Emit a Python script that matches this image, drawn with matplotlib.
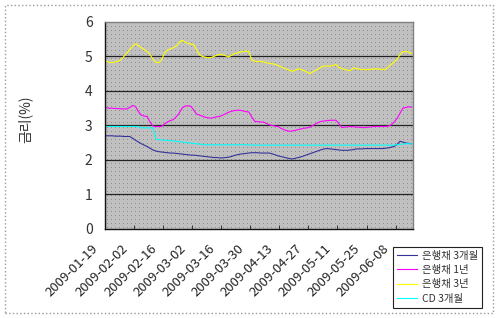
import matplotlib
matplotlib.use('Agg')
import matplotlib.pyplot as plt
from matplotlib.patches import Rectangle
from matplotlib.transforms import ScaledTranslation
import numpy as np
import pandas as pd

plt.rcParams['font.family'] = ['Noto Sans CJK KR', 'DejaVu Sans']

# 영업일 기준 날짜 (2009-01-19 ~ 2009-06-15)
dates = pd.bdate_range('2009-01-19', periods=106).strftime('%Y-%m-%d').tolist()
tick_labels = dates[::10]

bank_3m = [2.7, 2.7, 2.7, 2.69, 2.69, 2.69, 2.68, 2.68, 2.68,
           2.63, 2.57, 2.52, 2.47, 2.43, 2.39,
           2.34, 2.29, 2.26, 2.24,
           2.23, 2.22, 2.21, 2.2,
           2.2, 2.19, 2.18, 2.17, 2.16, 2.15,
           2.14, 2.14, 2.13, 2.12, 2.11, 2.1, 2.09,
           2.08, 2.07, 2.07, 2.06, 2.06,
           2.07, 2.08, 2.1, 2.13, 2.15,
           2.17, 2.18, 2.19, 2.2, 2.21,
           2.21, 2.21, 2.2, 2.2, 2.2, 2.2,
           2.18, 2.15, 2.12, 2.1, 2.08,
           2.06, 2.04, 2.03, 2.05, 2.07,
           2.09, 2.12, 2.15, 2.18, 2.21,
           2.24, 2.27, 2.3, 2.32, 2.33,
           2.32, 2.31, 2.3, 2.29, 2.28,
           2.28, 2.28, 2.29, 2.3, 2.32,
           2.32, 2.32, 2.33, 2.33, 2.33,
           2.33, 2.33, 2.33, 2.33, 2.34,
           2.35, 2.37, 2.39, 2.45, 2.54,
           2.52, 2.49, 2.48, 2.47]

bank_1y = [3.51, 3.5, 3.5, 3.49, 3.49, 3.48, 3.48, 3.48,
           3.52, 3.58, 3.55,
           3.4, 3.3, 3.27, 3.26,
           3.1, 2.98, 2.97, 2.97, 2.97,
           3.05, 3.1, 3.14, 3.17,
           3.25, 3.35, 3.5, 3.56,
           3.57, 3.56, 3.45, 3.33,
           3.3, 3.27, 3.24, 3.22,
           3.21, 3.23, 3.25, 3.26,
           3.3, 3.34, 3.38, 3.41,
           3.43, 3.44, 3.44, 3.42,
           3.4, 3.39, 3.25, 3.12,
           3.11, 3.1, 3.1, 3.06,
           3.02, 3.0, 2.98, 2.97,
           2.92, 2.88, 2.85, 2.83,
           2.84, 2.86, 2.88, 2.9,
           2.92, 2.93, 2.95, 3.0,
           3.05, 3.09, 3.12, 3.13,
           3.14, 3.15, 3.15, 3.15,
           3.05, 2.94, 2.95, 2.96,
           2.97, 2.96, 2.95, 2.95,
           2.94, 2.94, 2.95, 2.96,
           2.97, 2.97, 2.97, 2.97,
           2.97, 2.98, 3.02, 3.1,
           3.2, 3.35, 3.5, 3.52, 3.54, 3.53]

bank_3y = [4.86, 4.83, 4.82, 4.84, 4.86,
           4.9, 5.0, 5.1, 5.2, 5.3, 5.37,
           5.32, 5.25, 5.2, 5.15,
           5.05, 4.92, 4.83, 4.82,
           4.9, 5.1, 5.18, 5.22,
           5.25, 5.3, 5.4, 5.47,
           5.42, 5.38, 5.36, 5.35,
           5.2, 5.05, 5.0, 4.98,
           4.96, 4.97, 5.0, 5.04,
           5.06, 5.05, 5.02, 4.99,
           5.03, 5.08, 5.1, 5.13,
           5.14, 5.15, 5.15,
           4.9, 4.86, 4.85, 4.86,
           4.84, 4.82, 4.8, 4.79,
           4.77, 4.74, 4.7, 4.67,
           4.63, 4.6, 4.57, 4.6,
           4.64, 4.62, 4.59, 4.55,
           4.5, 4.55, 4.6, 4.64,
           4.7, 4.72, 4.72, 4.72,
           4.74, 4.77, 4.68,
           4.65, 4.62, 4.6, 4.59,
           4.67, 4.65, 4.63, 4.62,
           4.62, 4.62, 4.63, 4.63,
           4.64, 4.63, 4.62, 4.62,
           4.7, 4.77, 4.84, 4.91,
           5.05, 5.14, 5.14, 5.13, 5.08]

cd_3m = [2.97, 2.97, 2.97, 2.97, 2.97, 2.97, 2.97, 2.97, 2.97, 2.97, 2.97, 2.97,
         2.93, 2.93, 2.93, 2.93, 2.93,
         2.6, 2.59, 2.58, 2.57,
         2.57, 2.56, 2.55, 2.54, 2.53, 2.52, 2.51,
         2.5, 2.49, 2.48, 2.47, 2.46, 2.45, 2.44,
         2.44, 2.44, 2.44, 2.44, 2.44, 2.44, 2.44, 2.44, 2.44, 2.44,
         2.44, 2.44, 2.44, 2.44, 2.44, 2.43, 2.43, 2.43, 2.43, 2.43,
         2.43, 2.43, 2.43, 2.43, 2.43, 2.43, 2.43, 2.43, 2.43, 2.43,
         2.43, 2.43, 2.43, 2.43, 2.43, 2.43, 2.43, 2.43, 2.43, 2.43,
         2.43, 2.43, 2.43, 2.43, 2.43, 2.43, 2.43, 2.43, 2.43, 2.43,
         2.43, 2.43, 2.43, 2.43, 2.43, 2.43, 2.43, 2.43, 2.43, 2.43,
         2.43, 2.43, 2.43, 2.43, 2.43,
         2.44, 2.45, 2.46, 2.47, 2.47, 2.47]

series = [
    ('은행채 3개월', bank_3m, '#33339a'),
    ('은행채 1년', bank_1y, '#ff00ff'),
    ('은행채 3년', bank_3y, '#ffff00'),
    ('CD 3개월', cd_3m, '#00ffff'),
]

fig = plt.figure(figsize=(5, 3.18), dpi=100)
ax = fig.add_axes([0.21, 0.28, 0.616, 0.651])

x = np.arange(len(dates))
ax.set_xlim(-0.5, len(dates) - 0.5)
ax.set_ylim(0, 6)

# 회색 점무늬 배경
pat = np.full((207, 308, 3), 0.753)
pat[1::4, 2::4] = 0.56
ax.imshow(pat, extent=(-0.5, len(dates) - 0.5, 0, 6), aspect='auto',
          interpolation='nearest', zorder=0)

for v in range(1, 6):
    ax.axhline(v, color='#222222', lw=0.9, zorder=1)

for name, vals, c in series:
    ax.plot(x, vals, color=c, lw=0.8, label=name, zorder=2)

ax.set_xticks(x[::10])
ax.set_xticks(x[::10][1:] - 0.5, minor=True)
ax.tick_params(axis='x', which='major', length=0, pad=0)
ax.tick_params(axis='x', which='minor', length=3, direction='in', color='#222222')
ax.set_xticklabels(tick_labels, rotation=45, ha='right', va='center',
                   rotation_mode='anchor', fontsize=9.5, color='#222222')
shift = ScaledTranslation(-0.1, -0.18, fig.dpi_scale_trans)
for lab in ax.get_xticklabels():
    lab.set_transform(lab.get_transform() + shift)

ax.set_yticks(range(7))
ax.tick_params(axis='y', length=0, pad=9, labelsize=10, labelcolor='#333333')

ax.set_ylabel('금리(%)', fontsize=10, color='#333333')
ax.yaxis.set_label_coords(-0.235, 0.53)

for s in ['top', 'right']:
    ax.spines[s].set_color('#808080')
for s in ['left', 'bottom']:
    ax.spines[s].set_color('#111111')
for s in ax.spines.values():
    s.set_linewidth(1)

leg = ax.legend(loc='upper left', bbox_to_anchor=(0.786, 0.223),
                bbox_transform=fig.transFigure, fontsize=7.5, frameon=True,
                fancybox=False, framealpha=1, edgecolor='#222222',
                handlelength=2.0, handletextpad=0.45, labelspacing=0.42,
                borderpad=0.35, borderaxespad=0)
leg.get_frame().set_linewidth(0.8)
for t in leg.get_texts():
    t.set_color('#333333')

fig.patches.append(Rectangle((0.01, 0.016), 0.976, 0.968, transform=fig.transFigure,
                             fill=False, edgecolor='#999999', lw=1, ls=':'))

fig.savefig('out.png', dpi=100)
